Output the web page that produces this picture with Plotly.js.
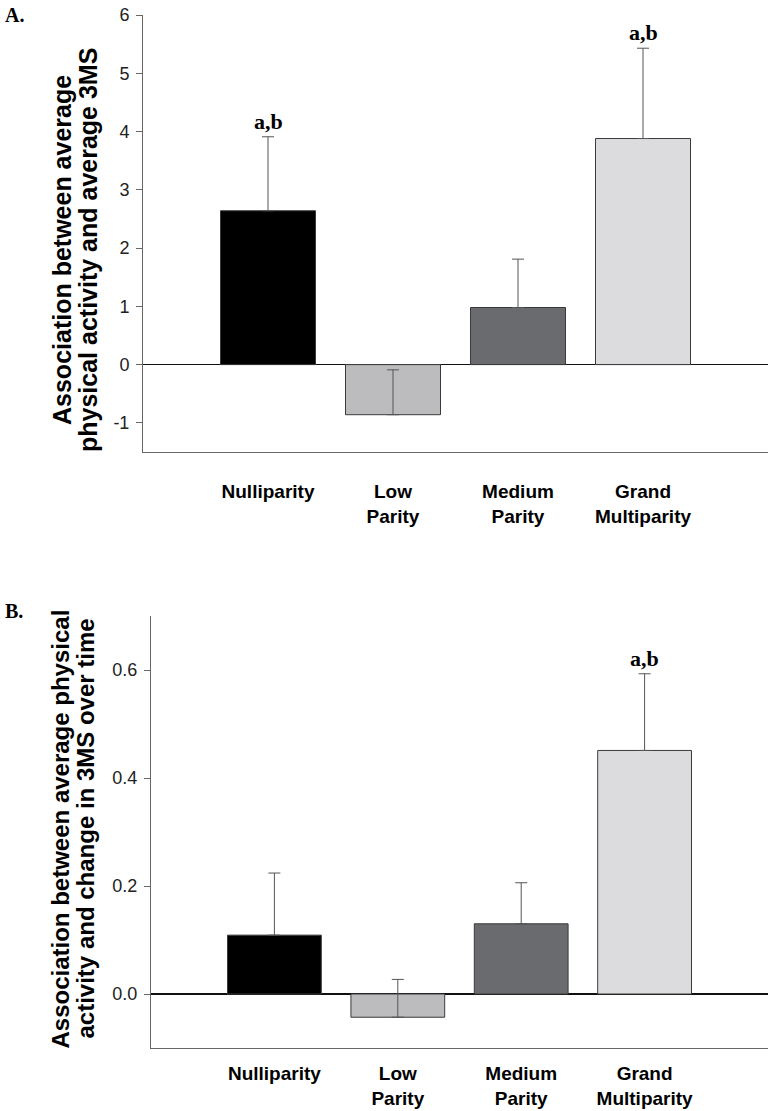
<!DOCTYPE html>
<html>
<head>
<meta charset="utf-8">
<script src="https://cdn.plot.ly/plotly-3.0.1.min.js"></script>
<style>html,body{margin:0;padding:0;background:#fff;}#chart{width:772px;height:1111px;}</style>
</head>
<body>
<div id="chart"></div>
<script>
// ---- data ----
const categories = ["Nulliparity", "Low Parity", "Medium Parity", "Grand Multiparity"];
const tickLabels = ["Nulliparity", "Low<br>Parity", "Medium<br>Parity", "Grand<br>Multiparity"];

// Panel A: association between average physical activity and average 3MS
const valuesA = [2.64, -0.86, 0.98, 3.88];
const errorsA = [1.27, 0.77, 0.83, 1.55];
const sigA = ["a,b", "", "", "a,b"];
const yTicksA = [-1, 0, 1, 2, 3, 4, 5, 6];
const yTickTextA = ["-1", "0", "1", "2", "3", "4", "5", "6"];

// Panel B: association between average physical activity and change in 3MS over time
const valuesB = [0.109, -0.043, 0.130, 0.451];
const errorsB = [0.115, 0.070, 0.076, 0.142];
const sigB = ["", "", "", "a,b"];
const yTicksB = [0.0, 0.2, 0.4, 0.6];
const yTickTextB = ["0.0", "0.2", "0.4", "0.6"];

const titleA = ["Association between average", "physical activity and average 3MS"];
const titleB = ["Association between average physical", "activity and change in 3MS over time"];

// ---- styles ----
const barColors = ["#000000", "#bcbcbe", "#6a6b6e", "#dcdcde"];
const sans = "Liberation Sans, Arial, Helvetica, sans-serif";
const serif = "Liberation Serif, Times New Roman, serif";
const W = 772, H = 1111;
const px = v => v / W;
const py = v => 1 - v / H;

function barTrace(vals, errs, xa, ya) {
  return {
    type: "bar",
    x: categories,
    y: vals,
    xaxis: xa, yaxis: ya,
    width: 0.76,
    marker: {color: barColors, line: {color: "#3a3a3a", width: 1}},
    error_y: {
      type: "data", symmetric: false,
      array: errs,
      arrayminus: errs.map(() => 0),
      color: "#555555", thickness: 1, width: 6
    },
    hoverinfo: "x+y",
    showlegend: false
  };
}

const traces = [
  barTrace(valuesA, errorsA, "x", "y"),
  barTrace(valuesB, errorsB, "x2", "y2")
];

function sigAnnotations(vals, errs, sig, xr, yr) {
  const out = [];
  sig.forEach((s, i) => {
    if (!s) return;
    out.push({
      xref: xr, yref: yr, x: categories[i], y: vals[i] + errs[i],
      text: "<b>" + s + "</b>", showarrow: false,
      xanchor: "center", yanchor: "bottom", yshift: 1,
      font: {family: serif, size: 22, color: "#000"}
    });
  });
  return out;
}

function titleAnnotations(lines, cx, cy, gap, size) {
  return lines.map((t, i) => ({
    xref: "paper", yref: "paper",
    x: px(cx + (i - (lines.length - 1) / 2) * gap), y: py(cy),
    text: "<b>" + t + "</b>", textangle: -90, showarrow: false,
    xanchor: "center", yanchor: "middle",
    font: {family: sans, size: size, color: "#000"}
  }));
}

const annotations = []
  .concat(sigAnnotations(valuesA, errorsA, sigA, "x", "y"))
  .concat(sigAnnotations(valuesB, errorsB, sigB, "x2", "y2"))
  .concat(titleAnnotations(titleA, 75, 250, 26, 25))
  .concat(titleAnnotations(titleB, 72, 829, 25, 24))
  .concat([
    {xref: "paper", yref: "paper", x: px(3), y: py(2), xanchor: "left", yanchor: "top",
     text: "<b>A.</b>", showarrow: false, font: {family: serif, size: 20, color: "#000"}},
    {xref: "paper", yref: "paper", x: px(3), y: py(598), xanchor: "left", yanchor: "top",
     text: "<b>B.</b>", showarrow: false, font: {family: serif, size: 20, color: "#000"}}
  ]);

const xCommon = {
  type: "category",
  categoryorder: "array", categoryarray: categories,
  tickvals: categories, ticktext: tickLabels,
  range: [-1, 4],
  showline: true, linecolor: "#666666", linewidth: 1,
  ticks: "", showgrid: false, zeroline: false,
  tickfont: {family: sans, size: 19, color: "#000", weight: "bold"},
  fixedrange: true
};
const yCommon = {
  showline: true, linecolor: "#666666", linewidth: 1,
  ticks: "outside", ticklen: 6, tickcolor: "#666666", tickwidth: 1,
  showgrid: false,
  zeroline: true, zerolinecolor: "#111111", zerolinewidth: 1.5,
  tickfont: {family: sans, size: 18, color: "#222"},
  ticklabelstandoff: 3,
  fixedrange: true
};

const layout = {
  width: W, height: H,
  margin: {l: 0, r: 0, t: 0, b: 0},
  paper_bgcolor: "#ffffff", plot_bgcolor: "#ffffff",
  showlegend: false,
  xaxis: Object.assign({}, xCommon, {domain: [px(143), px(768)], anchor: "y", ticklabelstandoff: 22}),
  yaxis: Object.assign({}, yCommon, {domain: [py(452), py(15)], anchor: "x", range: [-1.5, 6], tickvals: yTicksA, ticktext: yTickTextA}),
  xaxis2: Object.assign({}, xCommon, {domain: [px(151), px(768)], anchor: "y2", ticklabelstandoff: 8}),
  yaxis2: Object.assign({}, yCommon, {domain: [py(1048), py(616)], anchor: "x2", range: [-0.1, 0.7], tickvals: yTicksB, ticktext: yTickTextB}),
  annotations: annotations
};

Plotly.newPlot("chart", traces, layout, {displayModeBar: false, staticPlot: true});
</script>
</body>
</html>
